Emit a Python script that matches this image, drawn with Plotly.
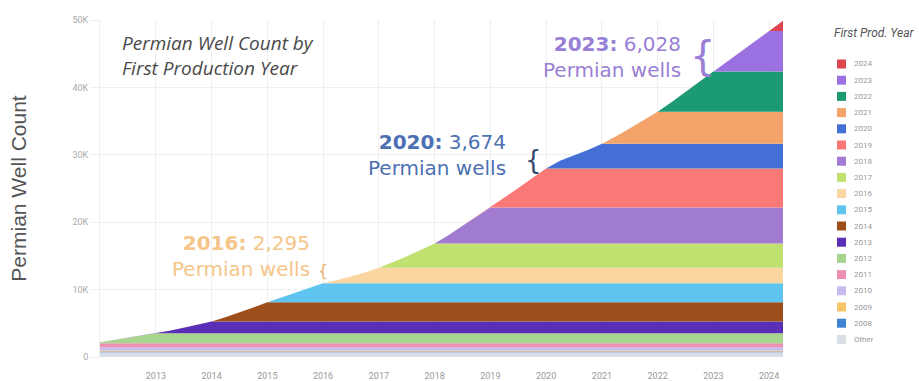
import pandas as pd
import plotly.graph_objects as go

# Cohorts, bottom of the stack first
cohorts = ["Other", "2008", "2009", "2010", "2011", "2012", "2013", "2014", "2015",
           "2016", "2017", "2018", "2019", "2020", "2021", "2022", "2023", "2024"]
colors = ["#d9dee4", "#3d85d3", "#f7c46c", "#c7bbef", "#ec8fb3", "#a8d58e", "#5b2fb5",
          "#9c4f1a", "#5ec4f0", "#fbd6a0", "#c0e070", "#a07bd1", "#fa7876", "#4470d6",
          "#f4a46a", "#1b9a74", "#9b70e0", "#dc4650"]

# Wells from cohorts that were already producing before the window opens
legacy_counts = {"Other": 720, "2008": 110, "2009": 150, "2010": 450, "2011": 600}

# Cumulative wells of each cohort at Jan 1, Apr 1, Jul 1, Oct 1 of its year and Jan 1 of the next
cohort_ramps = {
    "2012": [150, 480, 820, 1160, 1500],
    "2013": [0, 380, 800, 1270, 1750],
    "2014": [0, 600, 1300, 2050, 2850],
    "2015": [0, 700, 1450, 2150, 2800],
    "2016": [0, 450, 1000, 1620, 2295],
    "2017": [0, 800, 1700, 2650, 3600],
    "2018": [0, 1250, 2650, 4000, 5350],
    "2019": [0, 1400, 2850, 4350, 5800],
    "2020": [0, 1150, 1900, 2750, 3674],
    "2021": [0, 1050, 2250, 3500, 4750],
    "2022": [0, 1400, 2900, 4450, 5950],
    "2023": [0, 1500, 3000, 4550, 6028],
    "2024": [0, 1500],
}

y_ticks = [0, 10000, 20000, 30000, 40000, 50000]
y_tick_text = ["0", "10K", "20K", "30K", "40K", "50K"]
x_tick_years = list(range(2013, 2025))

dates = pd.date_range("2012-01-01", "2024-04-01", freq="QS")


def cohort_series(name):
    if name in legacy_counts:
        return [legacy_counts[name]] * len(dates)
    ramp = cohort_ramps[name]
    year = int(name)
    out = []
    for d in dates:
        if d.year < year:
            out.append(0)
        elif d.year == year:
            out.append(ramp[(d.month - 1) // 3])
        else:
            out.append(ramp[-1])
    return out


fig = go.Figure()
for name, col in zip(cohorts, colors):
    fig.add_trace(go.Scatter(
        x=dates, y=cohort_series(name), name=name, mode="lines",
        stackgroup="wells", line=dict(width=0, color=col), fillcolor=col,
        showlegend=False, hoverinfo="x+y+name",
    ))

# Plot-area geometry used for the hand-built legend (paper coordinates)
L, R, T, B = 100, 136, 20, 24
W, H = 919 - L - R, 381 - T - B


def px(xp):
    return (xp - L) / W


def py(yp):
    return (381 - B - yp) / H


shapes = []
annotations = []
legend_font = "Roboto"
annotations.append(dict(
    x=px(832), y=py(33), xref="paper", yref="paper", xanchor="left", yanchor="middle",
    text="<i>First Prod. Year</i>", showarrow=False,
    font=dict(family=legend_font, size=12, color="#555555"),
))
for i, (name, col) in enumerate(zip(reversed(cohorts), reversed(colors))):
    yc = 64 + 16.2 * i
    shapes.append(dict(
        type="rect", xref="paper", yref="paper",
        x0=px(837), x1=px(846), y0=py(yc - 4.5), y1=py(yc + 4.5),
        fillcolor=col, line=dict(width=0),
    ))
    annotations.append(dict(
        x=px(852), y=py(yc), xref="paper", yref="paper", xanchor="left", yanchor="middle",
        text=name, showarrow=False,
        font=dict(family=legend_font, size=8, color="#999999"),
    ))

# Chart title
annotations.append(dict(
    x=px(120), y=py(55), xref="paper", yref="paper", xanchor="left", yanchor="middle",
    align="left", text="<i>Permian Well Count by<br>First Production Year</i>", showarrow=False,
    font=dict(family="Open Sans", size=19, color="#4a4a4a"),
))

# Callouts for selected cohorts: (year, count, text colour, brace colour,
# text right edge, text centre y, brace x, brace y, brace size)
callouts = [
    ("2023", "6,028", "#9a7fd6", "#9a7fd6", "2022-06-17", 44500, "2022-10-20", 44700, 40),
    ("2020", "3,674", "#4d70b3", "#34466e", "2019-04-27", 29970, "2019-10-08", 29300, 26),
    ("2016", "2,295", "#f5c68a", "#e8b36a", "2015-10-19", 14980, "2015-12-31", 12900, 16),
]
for yr, count, col, bcol, tx, ty, bx, by, bsize in callouts:
    annotations.append(dict(
        x=tx, y=ty, xref="x", yref="y", xanchor="right", yanchor="middle", align="right",
        text=f"<b>{yr}:</b> {count}<br>Permian wells", showarrow=False,
        font=dict(family="DejaVu Sans", size=20, color=col),
    ))
    annotations.append(dict(
        x=bx, y=by, xref="x", yref="y", xanchor="center", yanchor="middle",
        text="{", showarrow=False,
        font=dict(family="DejaVu Sans ExtraLight, DejaVu Sans", size=bsize, color=bcol),
    ))

fig.update_layout(
    width=919, height=381,
    margin=dict(l=L, r=R, t=T, b=B),
    plot_bgcolor="white", paper_bgcolor="white",
    shapes=shapes, annotations=annotations,
    showlegend=False,
    xaxis=dict(
        range=["2012-01-01", "2024-04-01"],
        tickvals=[f"{y}-01-01" for y in x_tick_years],
        ticktext=[str(y) for y in x_tick_years],
        showgrid=True, gridcolor="#eeeeee", gridwidth=1,
        ticks="outside", ticklen=10, tickcolor="rgba(0,0,0,0)",
        tickfont=dict(family="Roboto", size=9, color="#999999"),
        zeroline=False, showline=False, automargin=False,
    ),
    yaxis=dict(
        range=[0, 50000], tickvals=y_ticks, ticktext=y_tick_text,
        showgrid=True, gridcolor="#eeeeee", gridwidth=1,
        ticks="outside", ticklen=9, tickcolor="#eeeeee",
        tickfont=dict(family="Roboto", size=9, color="#aaaaaa"),
        showline=True, linecolor="#eeeeee", linewidth=1, zeroline=False,
        automargin=False,
        title=dict(text="Permian Well Count", standoff=40,
                   font=dict(family="Liberation Sans", size=21, color="#555555")),
    ),
)

fig.write_html("out.html")
